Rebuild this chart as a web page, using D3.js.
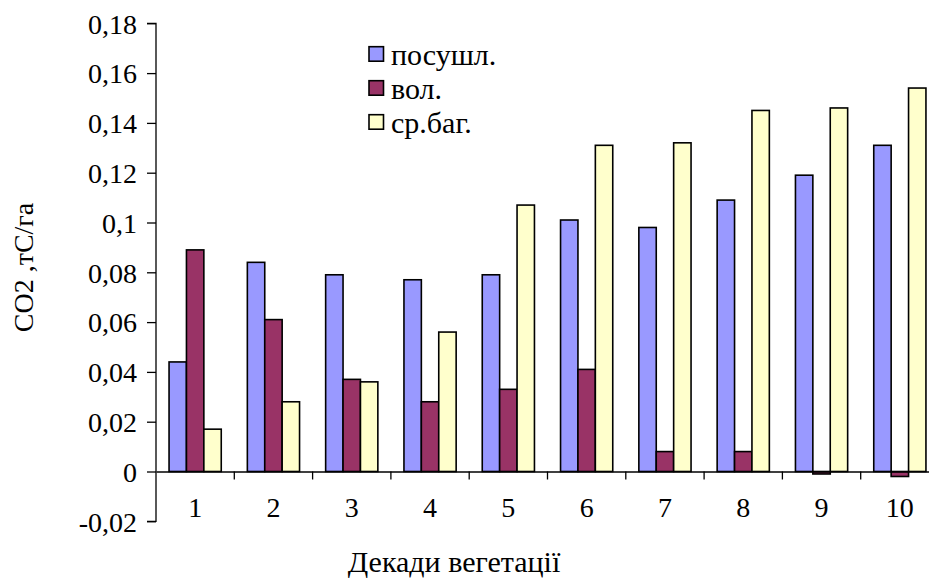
<!DOCTYPE html>
<html>
<head>
<meta charset="utf-8">
<script src="https://cdn.jsdelivr.net/npm/d3@7"></script>
<style>
  html, body { margin: 0; padding: 0; background: #fff; }
  svg { display: block; }
</style>
</head>
<body>
<svg id="chart" width="929" height="578" font-family="Liberation Serif"></svg>
<script>
// Decades of the vegetation period
const categories = ["1", "2", "3", "4", "5", "6", "7", "8", "9", "10"];
const seriesNames = ["посушл.", "вол.", "ср.баг."];
const seriesColors = ["#9999FF", "#993366", "#FFFFCC"];

// CO2 flux, tC/ha, per decade
const posushl = [0.044, 0.084, 0.079, 0.077, 0.079, 0.101, 0.098, 0.109, 0.119, 0.131];
const vol     = [0.089, 0.061, 0.037, 0.028, 0.033, 0.041, 0.008, 0.008, -0.001, -0.002];
const srBag   = [0.017, 0.028, 0.036, 0.056, 0.107, 0.131, 0.132, 0.145, 0.146, 0.154];

const yTicks = [-0.02, 0, 0.02, 0.04, 0.06, 0.08, 0.1, 0.12, 0.14, 0.16, 0.18];

const FONT = "Liberation Serif";
const FS = 28;

const series = [posushl, vol, srBag];
const rows = categories.map((c, i) => ({ cat: c, values: series.map(s => s[i]) }));

const svg = d3.select("#chart");
const plotLeft = 156, plotRight = 939, plotTop = 23.3, plotBottom = 521.3;

const y = d3.scaleLinear().domain([-0.02, 0.18]).range([plotBottom, plotTop]);
const x0 = d3.scaleBand().domain(categories).range([plotLeft, plotRight]).paddingInner(0).paddingOuter(0);
// three touching bars per decade, with 0.75 bar of space on each side
const x1 = d3.scaleBand().domain(d3.range(3)).range([0, x0.bandwidth()]).paddingInner(0).paddingOuter(0.75);

// bars
const groups = svg.append("g").selectAll("g").data(rows).join("g")
  .attr("transform", d => `translate(${x0(d.cat)},0)`);
groups.selectAll("rect").data(d => d.values.map((v, k) => ({ v, k }))).join("rect")
  .attr("x", d => x1(d.k))
  .attr("width", x1.bandwidth())
  .attr("y", d => y(Math.max(0, d.v)))
  .attr("height", d => Math.abs(y(d.v) - y(0)))
  .attr("fill", d => seriesColors[d.k])
  .attr("stroke", "#000")
  .attr("stroke-width", 1.6);

// y axis
const yAxis = d3.axisLeft(y).tickValues(yTicks).tickSize(9).tickPadding(10)
  .tickFormat(v => {
    if (Math.abs(v) < 1e-9) return "0";
    let s = d3.format(".2f")(v).replace("\u2212", "-");
    if (s.endsWith("0")) s = s.slice(0, -1);
    return s.replace(".", ",");
  });
const gy = svg.append("g").attr("transform", `translate(${plotLeft},0)`).call(yAxis)
  .attr("font-family", FONT).attr("font-size", FS);
gy.select(".domain").attr("stroke", "#000").attr("stroke-width", 1.3).attr("d", `M-9,${plotBottom}H0V${plotTop}H-9`);
gy.selectAll(".tick line").attr("stroke", "#000").attr("stroke-width", 1.3);
gy.selectAll(".tick text").attr("font-family", FONT).attr("font-size", FS).attr("fill", "#000").attr("dy", "0.35em");

// x axis along zero
const xAxis = d3.axisBottom(x0).tickSize(0).tickPadding(26);
const gx = svg.append("g").attr("transform", `translate(0,${y(0)})`).call(xAxis)
  .attr("font-family", FONT).attr("font-size", FS);
gx.select(".domain").attr("stroke", "#000").attr("stroke-width", 1.3);
gx.selectAll(".tick text").attr("font-family", FONT).attr("font-size", FS).attr("fill", "#000");
// tick marks between decades
gx.selectAll("line.sep").data(categories.slice(1)).join("line")
  .attr("class", "sep")
  .attr("x1", d => x0(d)).attr("x2", d => x0(d))
  .attr("y1", 0).attr("y2", 8)
  .attr("stroke", "#000").attr("stroke-width", 1.3);

// axis titles
svg.append("text")
  .attr("x", 454).attr("y", 572)
  .attr("text-anchor", "middle")
  .attr("font-family", FONT).attr("font-size", 30)
  .text("Декади вегетації");

svg.append("text")
  .attr("transform", "translate(33,267.5) rotate(-90)")
  .attr("text-anchor", "middle")
  .attr("font-family", FONT).attr("font-size", FS)
  .text("CO2 ,тС/га");

// legend
const legend = svg.append("g").attr("transform", "translate(369,46.7)");
const li = legend.selectAll("g").data(seriesNames).join("g")
  .attr("transform", (d, i) => `translate(0,${i * 34})`);
li.append("rect").attr("width", 14.5).attr("height", 14.5)
  .attr("fill", (d, i) => seriesColors[i]).attr("stroke", "#000").attr("stroke-width", 1.6);
li.append("text").attr("x", 22).attr("y", 7.5).attr("dy", "0.35em")
  .attr("font-family", FONT).attr("font-size", 30).text(d => d);
</script>
</body>
</html>
